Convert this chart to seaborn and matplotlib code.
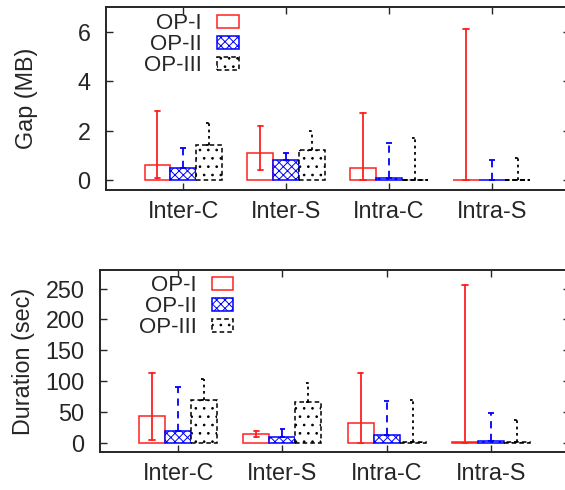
import numpy as np
import pandas as pd
import matplotlib
matplotlib.use("Agg")
import matplotlib.pyplot as plt
import seaborn as sns

categories = ["Inter-C", "Inter-S", "Intra-C", "Intra-S"]
ops = ["OP-I", "OP-II", "OP-III"]

# Gap (MB): bar value, low and high end of the range bar
gap_bar = {"OP-I": [0.6, 1.1, 0.5, 0.01],
           "OP-II": [0.5, 0.8, 0.1, 0.02],
           "OP-III": [1.4, 1.2, 0.02, 0.02]}
gap_low = {"OP-I": [0.1, 0.4, 0.0, 0.0],
           "OP-II": [0.5, 0.8, 0.1, 0.02],
           "OP-III": [1.4, 1.2, 0.02, 0.02]}
gap_high = {"OP-I": [2.8, 2.2, 2.7, 6.1],
            "OP-II": [1.3, 1.1, 1.5, 0.8],
            "OP-III": [2.3, 2.0, 1.7, 0.9]}

# Duration (sec)
dur_bar = {"OP-I": [43, 14, 31.5, 1],
           "OP-II": [18.5, 9, 13, 3],
           "OP-III": [69, 66, 2, 1]}
dur_low = {"OP-I": [4, 9, 0, 0],
           "OP-II": [18.5, 9, 13, 3],
           "OP-III": [69, 66, 2, 1]}
dur_high = {"OP-I": [113, 19.5, 113.5, 255],
            "OP-II": [91, 23, 68, 49],
            "OP-III": [104, 97, 70, 37]}

gap_ticks = [0, 2, 4, 6]
dur_ticks = [0, 50, 100, 150, 200, 250]

RED, BLUE, BLACK = "#ff2020", "#0000ff", "#000000"
colors = {"OP-I": RED, "OP-II": BLUE, "OP-III": BLACK}
hatches = {"OP-I": "", "OP-II": "xxxx", "OP-III": ".."}
edge_ls = {"OP-I": "-", "OP-II": "-", "OP-III": (0, (3, 2))}
err_ls = {"OP-I": "-", "OP-II": (0, (4, 3)), "OP-III": (0, (1.5, 2))}


def long_frame(bar, low, high):
    rows = []
    for op in ops:
        for i, c in enumerate(categories):
            for v in (low[op][i], bar[op][i], high[op][i]):
                rows.append({"cat": c, "op": op, "val": v})
    return pd.DataFrame(rows)


sns.set_style("ticks")
plt.rcParams["font.family"] = ["Liberation Sans", "DejaVu Sans"]
plt.rcParams["font.size"] = 16.8
plt.rcParams["hatch.linewidth"] = 0.7
plt.rcParams["axes.linewidth"] = 1.4

fig = plt.figure(figsize=(5.65, 4.9), dpi=100)
ax1 = fig.add_axes([106 / 565, 1 - 190 / 490, 464 / 565, 183 / 490])
ax2 = fig.add_axes([100 / 565, 1 - 452 / 490, 470 / 565, 182 / 490])


def draw(ax, df, ylim, ticks, ylabel, labx, leg_anchor):
    sns.barplot(data=df, x="cat", y="val", hue="op", order=categories,
                hue_order=ops, palette=[colors[o] for o in ops],
                estimator="median", errorbar=lambda v: (v.min(), v.max()),
                width=0.75, gap=0, capsize=0.16, legend=False, ax=ax,
                err_kws={"linewidth": 1.3})
    for op, cont in zip(ops, ax.containers):
        for p in cont.patches:
            p.set_facecolor("white")
            p.set_edgecolor(colors[op])
            p.set_hatch(hatches[op])
            p.set_linestyle(edge_ls[op])
            p.set_linewidth(1.1)
    n = len(categories)
    for k, op in enumerate(ops):
        for ln in ax.lines[k * n:(k + 1) * n]:
            ln.set_color(colors[op])
            ln.set_linestyle(err_ls[op])
    ax.set_xlim(-0.75, 3.76)
    ax.set_ylim(*ylim)
    ax.set_yticks(ticks)
    ax.set_xlabel("")
    ax.set_ylabel(ylabel)
    ax.yaxis.set_label_coords(labx, 0.5)
    ax.tick_params(axis="both", direction="in", top=True, right=True,
                   length=5, width=1.0)
    ax.tick_params(axis="y", pad=11)
    ax.tick_params(axis="x", pad=7)
    for s in ax.spines.values():
        s.set_visible(True)
    handles = [cont.patches[0] for cont in ax.containers]
    ax.legend(handles, ops, loc="upper left", bbox_to_anchor=leg_anchor,
              frameon=False, markerfirst=False, borderpad=0,
              borderaxespad=0, handlelength=0.98, handleheight=0.55,
              handletextpad=0.68, labelspacing=0.0, fontsize=16)


draw(ax1, long_frame(gap_bar, gap_low, gap_high), (-0.4, 7.0), gap_ticks,
     "Gap (MB)", -0.146, (0.082, 0.965))
draw(ax2, long_frame(dur_bar, dur_low, dur_high), (-15, 280), dur_ticks,
     "Duration (sec)", -0.138, (0.082, 0.972))

fig.savefig("out.png", dpi=100)
